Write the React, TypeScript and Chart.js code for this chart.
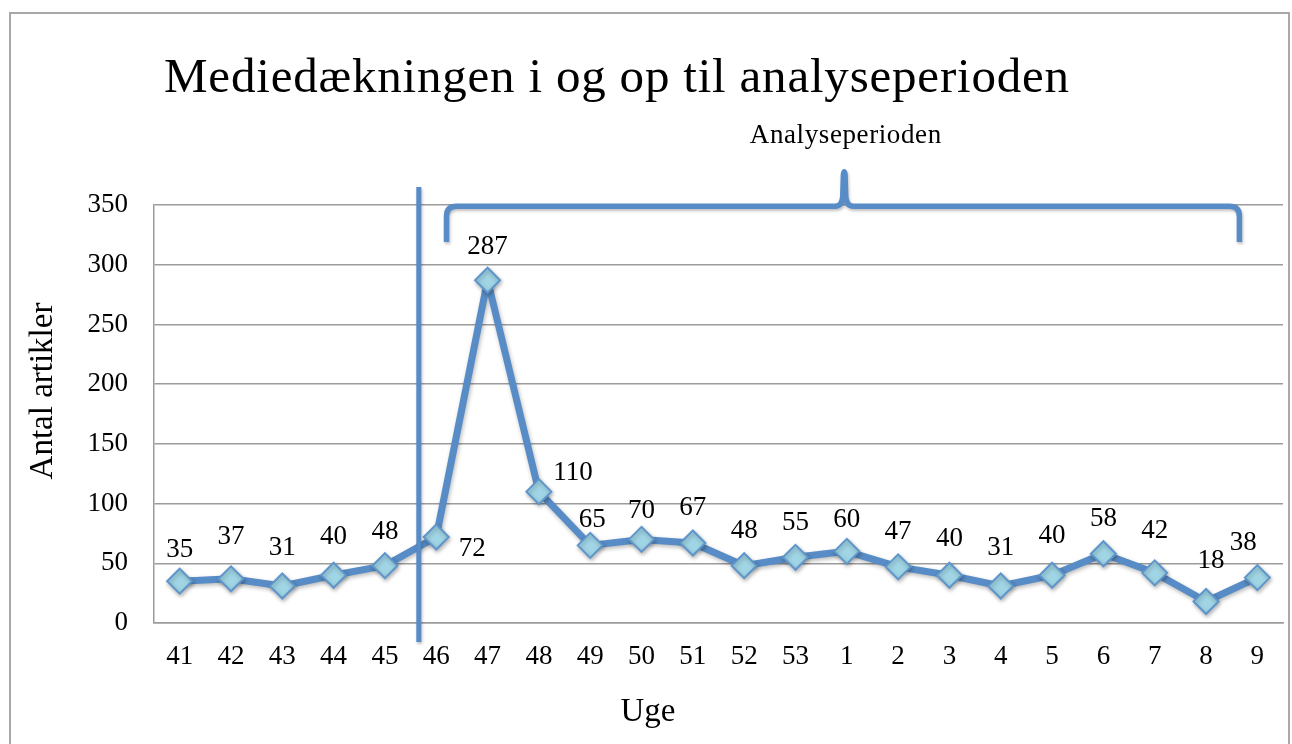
import React, { useEffect, useRef } from "react";
import { Chart, registerables } from "chart.js";

Chart.register(...registerables);

// ---- data ----
const weeks = ["41", "42", "43", "44", "45", "46", "47", "48", "49", "50", "51", "52", "53", "1", "2", "3", "4", "5", "6", "7", "8", "9"];
const articles = [35, 37, 31, 40, 48, 72, 287, 110, 65, 70, 67, 48, 55, 60, 47, 40, 31, 40, 58, 42, 18, 38];
const yMin = 0;
const yMax = 350;
const yStep = 50;

const chartTitle = "Mediedækningen i og op til analyseperioden";
const periodLabel = "Analyseperioden";
const yTitle = "Antal artikler";
const xTitle = "Uge";

// label nudges (dx, dy in px) relative to each point
const labelOffsets: [number, number][] = [
  [0, -31], [0, -42], [0, -38], [0, -38], [0, -34], [36, 12], [0, -33], [34, -19],
  [2, -25], [0, -28], [0, -35], [0, -35], [0, -34], [0, -31], [0, -35], [0, -36],
  [0, -38], [0, -39], [0, -35], [0, -42], [5, -41], [-14, -35],
];

const FONT = "'Liberation Serif', 'Times New Roman', serif";
const LINE_BLUE = "#588cc6";
const MARK_FILL = "#a0d5e5";
const MARK_EDGE = "#5e96cc";
const GRID = "#9c9c9c";

const decorPlugin = {
  id: "decor",
  beforeDraw(chart: any) {
    const ctx = chart.ctx;
    ctx.save();
    ctx.strokeStyle = "#a8a8a8";
    ctx.lineWidth = 2;
    ctx.strokeRect(10, 13, 1279, 800);
    ctx.restore();
  },
  beforeDatasetsDraw(chart: any) {
    const ctx = chart.ctx;
    ctx.save();
    ctx.shadowColor = "rgba(0,0,0,0.28)";
    ctx.shadowBlur = 4;
    ctx.shadowOffsetX = 1;
    ctx.shadowOffsetY = 2;
  },
  afterDatasetsDraw(chart: any) {
    const ctx = chart.ctx;
    ctx.restore();
    const xs = chart.scales.x;
    const ys = chart.scales.y;
    const px = (v: number) => xs.getPixelForValue(v);
    const py = (v: number) => ys.getPixelForValue(v);

    // annotations
    ctx.save();
    ctx.shadowColor = "rgba(0,0,0,0.25)";
    ctx.shadowBlur = 3;
    ctx.shadowOffsetX = 1;
    ctx.shadowOffsetY = 2;
    ctx.strokeStyle = LINE_BLUE;
    ctx.lineCap = "butt";
    // vertical divider
    ctx.lineWidth = 5;
    ctx.beginPath();
    const vx = px(4.66);
    ctx.moveTo(vx, py(365));
    ctx.lineTo(vx, py(-16));
    ctx.stroke();
    // brace
    const xl = px(5.2);
    const xr = px(20.65);
    const xm = px(12.95);
    const yTop = py(349);
    const yEnd = py(319);
    const ySpike = py(379);
    const r = 10;
    ctx.lineWidth = 5.5;
    ctx.lineJoin = "round";
    ctx.beginPath();
    ctx.moveTo(xl, yEnd);
    ctx.lineTo(xl, yTop + r);
    ctx.quadraticCurveTo(xl, yTop, xl + r, yTop);
    ctx.lineTo(xm - 9, yTop);
    ctx.quadraticCurveTo(xm - 2, yTop, xm - 1.5, yTop - 10);
    ctx.lineTo(xm - 0.8, ySpike + 4);
    ctx.quadraticCurveTo(xm, ySpike - 1, xm + 0.8, ySpike + 4);
    ctx.lineTo(xm + 1.5, yTop - 10);
    ctx.quadraticCurveTo(xm + 2, yTop, xm + 9, yTop);
    ctx.lineTo(xr - r, yTop);
    ctx.quadraticCurveTo(xr, yTop, xr, yTop + r);
    ctx.lineTo(xr, yEnd);
    ctx.stroke();
    ctx.restore();

    // data labels
    const meta = chart.getDatasetMeta(0);
    ctx.save();
    ctx.font = `27px ${FONT}`;
    ctx.fillStyle = "#000";
    ctx.textAlign = "center";
    ctx.textBaseline = "middle";
    meta.data.forEach((pt: any, i: number) => {
      const [dx, dy] = labelOffsets[i] || [0, -33];
      ctx.fillText(String(articles[i]), pt.x + dx, pt.y + dy);
    });
    ctx.restore();
  },
  afterDraw(chart: any) {
    const ctx = chart.ctx;
    const xs = chart.scales.x;
    ctx.save();
    ctx.fillStyle = "#000";
    // main title
    ctx.font = `49px ${FONT}`;
    ctx.textAlign = "left";
    ctx.textBaseline = "alphabetic";
    (ctx as any).letterSpacing = "0.8px";
    ctx.fillText(chartTitle, 164, 92);
    // period label
    ctx.font = `27px ${FONT}`;
    (ctx as any).letterSpacing = "0.6px";
    ctx.textAlign = "center";
    ctx.fillText(periodLabel, xs.getPixelForValue(12.98), 143);
    (ctx as any).letterSpacing = "0px";
    // x title
    ctx.font = `33px ${FONT}`;
    ctx.fillText(xTitle, 648, 721);
    // y title
    ctx.translate(52, 391);
    ctx.rotate(-Math.PI / 2);
    ctx.fillText(yTitle, 0, 0);
    ctx.restore();
  },
};

export default function App() {
  const ref = useRef<HTMLCanvasElement | null>(null);
  useEffect(() => {
    if (!ref.current) return;
    const chart = new Chart(ref.current, {
      type: "line",
      data: {
        labels: weeks,
        datasets: [
          {
            data: articles,
            borderColor: LINE_BLUE,
            borderWidth: 7,
            borderJoinStyle: "round",
            pointStyle: "rectRot",
            pointRadius: 12.5,
            pointBackgroundColor: MARK_FILL,
            pointBorderColor: MARK_EDGE,
            pointBorderWidth: 2,
            tension: 0,
            clip: false,
          } as any,
        ],
      },
      options: {
        responsive: false,
        devicePixelRatio: 1,
        animation: false,
        layout: { autoPadding: false, padding: { left: 0, right: 9, top: 205, bottom: 0 } },
        plugins: {
          legend: { display: false },
          tooltip: { enabled: false },
          title: { display: false },
        },
        scales: {
          x: {
            type: "category",
            offset: true,
            grid: { display: false, drawTicks: false },
            border: { display: true, color: GRID, width: 1.5 },
            ticks: {
              font: { family: FONT, size: 27 },
              color: "#000",
              padding: 18,
              maxRotation: 0,
              autoSkip: false,
            },
            afterFit: (s: any) => {
              s.height = 121;
              s.paddingLeft = 0;
              s.paddingRight = 0;
            },
          },
          y: {
            min: yMin,
            max: yMax,
            ticks: {
              stepSize: yStep,
              font: { family: FONT, size: 27 },
              color: "#000",
              padding: 26,
            },
            grid: { color: GRID, lineWidth: 1.5, drawTicks: false },
            border: { display: true, color: GRID, width: 1.5 },
            afterFit: (s: any) => {
              s.width = 154;
            },
          },
        },
      } as any,
      plugins: [decorPlugin],
    });
    return () => chart.destroy();
  }, []);

  return (
    <div style={{ position: "fixed", left: 0, top: 0, width: 1292, height: 744, background: "#fff" }}>
      <canvas ref={ref} width={1292} height={744} style={{ display: "block" }} />
    </div>
  );
}
